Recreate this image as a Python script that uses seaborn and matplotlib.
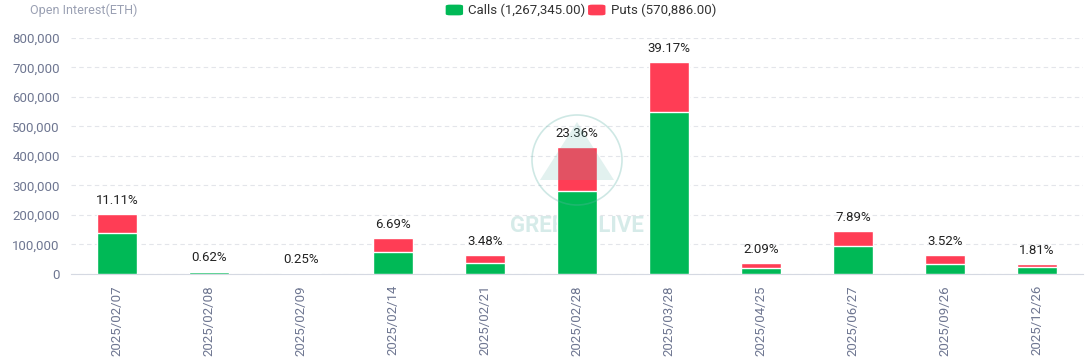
import matplotlib
matplotlib.use("Agg")
import matplotlib.pyplot as plt
import seaborn as sns
import pandas as pd
from matplotlib.patches import FancyBboxPatch, Circle, Polygon

expiries = ["2025/02/07", "2025/02/08", "2025/02/09", "2025/02/14", "2025/02/21",
            "2025/02/28", "2025/03/28", "2025/04/25", "2025/06/27", "2025/09/26",
            "2025/12/26"]
calls = [139000, 6000, 4000, 75000, 37000, 280000, 550000, 22000, 96000, 34000, 24000]
puts = [65000, 5400, 600, 48000, 27000, 149000, 170000, 16400, 49000, 31000, 9300]
pct_labels = ["11.11%", "0.62%", "0.25%", "6.69%", "3.48%", "23.36%", "39.17%",
              "2.09%", "7.89%", "3.52%", "1.81%"]
calls_total = "1,267,345.00"
puts_total = "570,886.00"

green = "#00B956"
red = "#FF3D55"
tick_color = "#6E7691"
wm_color = "#5FB3A8"

df = pd.DataFrame({"expiry": expiries, "calls": calls, "puts": puts})
df["total"] = df["calls"] + df["puts"]

sns.set_style("white")
plt.rcParams["font.family"] = ["Roboto", "DejaVu Sans"]

fig = plt.figure(figsize=(10.87, 3.57), dpi=100)
ax = fig.add_axes([0.0653, 0.2325, 0.9310, 0.6611])

sns.barplot(data=df, x="expiry", y="total", order=expiries, color=red,
            width=0.43, saturation=1, ax=ax, zorder=2)
sns.barplot(data=df, x="expiry", y="calls", order=expiries, color=green,
            width=0.43, saturation=1, ax=ax, zorder=3)

for i, (tot, lab) in enumerate(zip(df["total"], pct_labels)):
    ax.annotate(lab, (i, tot), xytext=(0, 5), textcoords="offset points",
                ha="center", va="bottom", fontsize=9.5, color="#222222", zorder=6)

ax.set_xlim(-0.5, len(expiries) - 0.5)
ax.set_ylim(0, 800000)
ax.set_yticks(range(0, 800001, 100000))
ax.set_yticklabels([f"{v:,}" for v in range(0, 800001, 100000)])
ax.yaxis.grid(True, linestyle=(0, (4, 3)), color="#E3E5EA", linewidth=0.8, zorder=0)
ax.set_axisbelow(True)
ax.set_xlabel("")
ax.set_ylabel("")

for s in ["top", "right", "left"]:
    ax.spines[s].set_visible(False)
ax.spines["bottom"].set_color("#D5D9E2")
ax.tick_params(axis="y", length=0, labelsize=9.5, labelcolor=tick_color, pad=8)
ax.tick_params(axis="x", which="major", length=0, labelsize=9.5,
               labelcolor=tick_color, pad=8, labelrotation=90)
ax.set_xticks(range(len(expiries)))
ax.set_xticklabels(expiries)
ax.set_xticks([i + 0.5 for i in range(len(expiries) - 1)], minor=True)
ax.tick_params(axis="x", which="minor", length=5, color="#D5D9E2")

# watermark (pixel coordinates of the figure)
ax.text(5.0, 163000, "GREEKS.LIVE", ha="center", va="center", fontsize=16,
        fontweight="bold", color=wm_color, alpha=0.25, zorder=1)
fig.patches.append(Circle((577, 357 - 160), 45, transform=None, fill=False,
                          edgecolor=wm_color, linewidth=1.2, alpha=0.3, zorder=5))
fig.patches.append(Polygon([(577, 357 - 122), (540, 357 - 180), (614, 357 - 180)],
                           closed=True, transform=None, facecolor=wm_color,
                           edgecolor="none", alpha=0.18, zorder=5))

fig.text(0.028, 0.972, "Open Interest(ETH)", fontsize=9, color="#9AA0B3",
         ha="left", va="center")

# legend
for x0, col, lab in [(0.410, green, f"Calls ({calls_total})"),
                     (0.541, red, f"Puts ({puts_total})")]:
    fig.patches.append(FancyBboxPatch((x0, 0.957), 0.016, 0.030,
                                      boxstyle="round,pad=0,rounding_size=0.004",
                                      transform=fig.transFigure, facecolor=col,
                                      edgecolor="none"))
    fig.text(x0 + 0.021, 0.972, lab, fontsize=9.5, color="#333333",
             ha="left", va="center")

fig.savefig("out.png", dpi=100)
